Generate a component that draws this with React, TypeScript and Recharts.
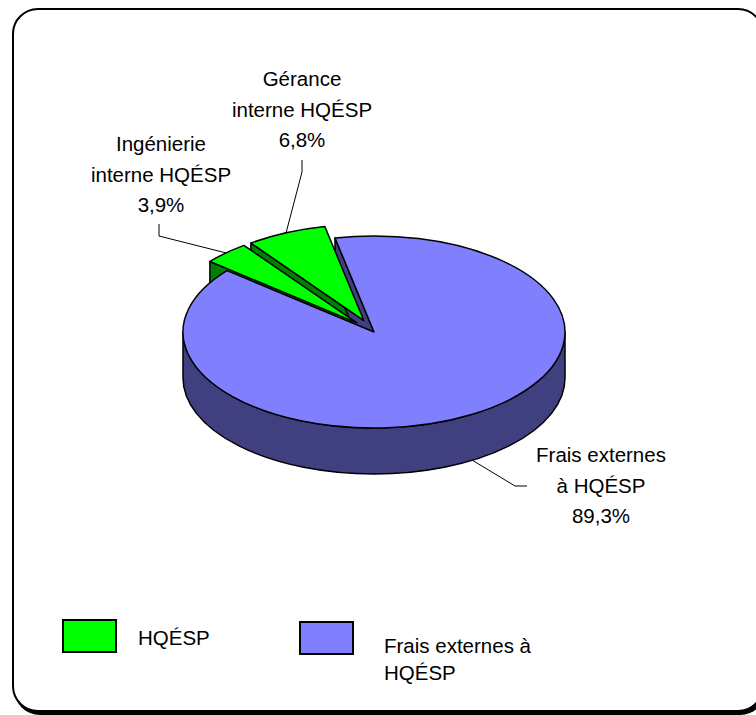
import React from "react";
import { PieChart, Pie, Cell, Legend } from "recharts";

// data
const SLICE_NAMES = ["Ingénierie interne HQÉSP", "Gérance interne HQÉSP", "Frais externes à HQÉSP"];
const SLICE_LINES = [["Ingénierie", "interne HQÉSP"], ["Gérance", "interne HQÉSP"], ["Frais externes", "à HQÉSP"]];
const SLICE_VALUES = [3.9, 6.8, 89.3];
const LEGEND_LABELS = ["HQÉSP", "Frais externes à HQÉSP"];

// styles
const TOP_COLORS = ["#00FF00", "#00FF00", "#8080FF"];
const SIDE_COLORS = ["#008000", "#008000", "#404080"];
const LEGEND_COLORS = ["#00FF00", "#8080FF"];
const EXPLODE = [25, 25, 0];

const W = 756;
const H = 715;
const FONT = "'Liberation Sans', Arial, sans-serif";
const TILT = 0.503; // ellipse ry / rx
const DEPTH = 46;
const START_ANGLE = 140.3;

// label blocks: centre x, first baseline, leader elbow
const LABEL_POS = [
  { x: 161, y: 151, elbow: [[159, 224], [159, 236]] },
  { x: 302, y: 86, elbow: [[302, 160], [302, 172]] },
  { x: 601, y: 462, elbow: [[527, 486], [515, 486]] },
];

const data = SLICE_NAMES.map((name, i) => ({ name, value: SLICE_VALUES[i] }));

const rad = (d: number) => (d * Math.PI) / 180;

function origin(p: any) {
  const mid = (p.startAngle + p.endAngle) / 2;
  const e = EXPLODE[p.index];
  return [p.cx + e * Math.cos(rad(mid)), p.cy - e * TILT * Math.sin(rad(mid))];
}

function pt(o: number[], r: number, a: number, dy = 0) {
  return [o[0] + r * Math.cos(rad(a)), o[1] - r * TILT * Math.sin(rad(a)) + dy];
}

const f = (q: number[]) => `${q[0].toFixed(2)},${q[1].toFixed(2)}`;

const renderSides = (p: any) => {
  const i = p.index;
  const o = origin(p);
  const r = p.outerRadius;
  const ry = r * TILT;
  const s = Math.max(p.startAngle, p.endAngle);
  const e = Math.min(p.startAngle, p.endAngle);
  const mid = (s + e) / 2;
  const parts: React.ReactNode[] = [];

  // leader line (front slices attach to the bottom edge)
  const tip = pt(o, r, mid, Math.sin(rad(mid)) < 0 ? DEPTH : 0);
  const lp = LABEL_POS[i];
  parts.push(
    <polyline key="ld" points={[...lp.elbow, tip].map(f).join(" ")} fill="none" stroke="#000" strokeWidth={1} />
  );

  // radial cut faces facing the viewer
  [s, e].forEach((a, k) => {
    const vis = k === 0 ? Math.cos(rad(a)) < -1e-6 : Math.cos(rad(a)) > 1e-6;
    if (!vis) return;
    const q = pt(o, r, a);
    const d = `M${f(o)} L${f(q)} L${f([q[0], q[1] + DEPTH])} L${f([o[0], o[1] + DEPTH])} Z`;
    parts.push(<path key={"r" + k} d={d} fill={SIDE_COLORS[i]} stroke="#000" strokeWidth={1.5} strokeLinejoin="round" />);
  });

  // outer wall on the front half
  for (let k = -2; k <= 1; k++) {
    const lo = Math.max(e, -180 + 360 * k);
    const hi = Math.min(s, 360 * k);
    if (hi - lo <= 0.01) continue;
    const a1 = pt(o, r, hi);
    const a2 = pt(o, r, lo);
    const d =
      `M${f(a1)} A${r},${ry} 0 0 1 ${f(a2)} L${f([a2[0], a2[1] + DEPTH])} ` +
      `A${r},${ry} 0 0 0 ${f([a1[0], a1[1] + DEPTH])} Z`;
    parts.push(<path key={"w" + k} d={d} fill={SIDE_COLORS[i]} stroke="#000" strokeWidth={1.5} strokeLinejoin="round" />);
  }
  return <g key={"side" + i}>{parts}</g>;
};

const renderTops = (p: any) => {
  const i = p.index;
  const o = origin(p);
  const r = p.outerRadius;
  const ry = r * TILT;
  const s = Math.max(p.startAngle, p.endAngle);
  const e = Math.min(p.startAngle, p.endAngle);
  const large = s - e > 180 ? 1 : 0;
  const d = `M${f(o)} L${f(pt(o, r, s))} A${r},${ry} 0 ${large} 1 ${f(pt(o, r, e))} Z`;
  const lp = LABEL_POS[i];
  const lines = [...SLICE_LINES[i], (p.percent * 100).toFixed(1).replace(".", ",") + "%"];
  return (
    <g key={"top" + i}>
      <path d={d} fill={TOP_COLORS[i]} stroke="#000" strokeWidth={1.5} strokeLinejoin="round" />
      <text x={lp.x} y={lp.y} textAnchor="middle" fontFamily={FONT} fontSize={20.5} fill="#000">
        {lines.map((t, j) => (
          <tspan key={j} x={lp.x} y={lp.y + j * 30.5}>{t}</tspan>
        ))}
      </text>
    </g>
  );
};

const renderLegend = () => (
  <div style={{ position: "relative", width: W, height: 100, fontFamily: FONT, fontSize: 20.5, color: "#000" }}>
    {LEGEND_LABELS.map((t, i) => {
      const bx = i === 0 ? 62 : 299;
      const by = i === 0 ? 4 : 6;
      return (
        <React.Fragment key={t}>
          <div style={{ position: "absolute", left: bx, top: by, width: 55, height: 34, boxSizing: "border-box", background: LEGEND_COLORS[i], border: "2px solid #000" }} />
          <div style={{ position: "absolute", left: i === 0 ? 138 : 384, top: i === 0 ? 9 : 17, width: 170, lineHeight: "27px" }}>{t}</div>
        </React.Fragment>
      );
    })}
  </div>
);

export default function App() {
  return (
    <div style={{ position: "absolute", left: 0, top: 0, width: W, height: H, overflow: "hidden", background: "#fff" }}>
      <div
        style={{
          position: "absolute", left: 12, top: 8, width: 752, height: 704, boxSizing: "border-box",
          border: "2px solid #000", borderRadius: 26, boxShadow: "2px 3px 0 #000", background: "#fff",
        }}
      />
      <div style={{ position: "absolute", left: 0, top: 0 }}>
        <PieChart width={W} height={H} margin={{ top: 0, right: 0, bottom: 0, left: 0 }}>
          <Pie
            data={data} dataKey="value" nameKey="name" cx={374} cy={332} outerRadius={191}
            startAngle={START_ANGLE} endAngle={START_ANGLE - 360} stroke="none" fill="none"
            label={renderSides} labelLine={false} isAnimationActive={false}
          >
            {data.map((d) => <Cell key={d.name} fill="none" stroke="none" />)}
          </Pie>
          <Pie
            data={data} dataKey="value" nameKey="name" cx={374} cy={332} outerRadius={191}
            startAngle={START_ANGLE} endAngle={START_ANGLE - 360} stroke="none" fill="none"
            label={renderTops} labelLine={false} isAnimationActive={false}
          >
            {data.map((d) => <Cell key={d.name} fill="none" stroke="none" />)}
          </Pie>
          <Legend verticalAlign="bottom" wrapperStyle={{ left: 0, bottom: 0, width: W, height: 100 }} content={renderLegend} />
        </PieChart>
      </div>
    </div>
  );
}
